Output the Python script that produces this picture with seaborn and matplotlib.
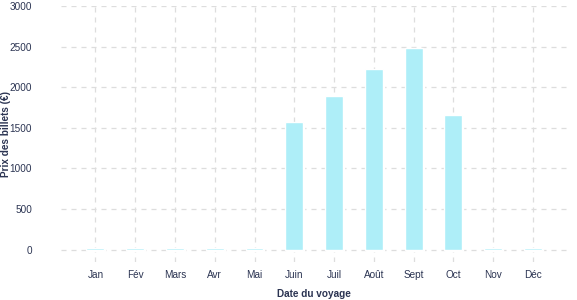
import matplotlib
matplotlib.use("Agg")
import matplotlib.pyplot as plt
import matplotlib.transforms as mtransforms
import seaborn as sns
import pandas as pd

months = ["Jan", "Fév", "Mars", "Avr", "Mai", "Juin", "Juil", "Août", "Sept", "Oct", "Nov", "Déc"]
prices = [20, 20, 20, 20, 20, 1576, 1897, 2229, 2488, 1663, 20, 20]
yticks = [0, 500, 1000, 1500, 2000, 2500, 3000]

df = pd.DataFrame({"mois": months, "prix": prices})

sns.set_theme(style="white")
plt.rcParams["font.family"] = ["Liberation Sans", "DejaVu Sans"]

text_col = "#2b3452"
fig = plt.figure(figsize=(5.77, 3.0), dpi=100)
ax = fig.add_axes([0.106, 0.127, 0.877, 0.853])

# shadow bars
shadow = mtransforms.offset_copy(ax.transData, fig=fig, x=1.0, y=-1.0, units="dots")
ax.bar(range(len(months)), prices, width=0.45, color="#dcdcdc", transform=shadow, zorder=2)

sns.barplot(data=df, x="mois", y="prix", ax=ax, color="#aeeef8", width=0.45,
            saturation=1, zorder=3)

ax.set_xlim(-0.86, 11.86)
ax.set_ylim(-150, 3000)
ax.set_yticks(yticks)
ax.set_yticklabels([str(v) for v in yticks])

ax.grid(True, axis="both", linestyle=(0, (4, 4)), color="#dddddd", linewidth=0.9, zorder=0)
ax.set_axisbelow(True)
for s in ax.spines.values():
    s.set_visible(False)

ax.tick_params(axis="both", length=0, labelsize=7.2, labelcolor=text_col)
ax.tick_params(axis="y", pad=21)
ax.tick_params(axis="x", pad=6)

ax.set_xlabel("Date du voyage", fontsize=7.2, fontweight="bold", color=text_col, labelpad=6)
ax.set_ylabel("Prix des billets (€)", fontsize=7.2, fontweight="bold", color=text_col)
ax.yaxis.set_label_coords(-0.099, 0.5)

fig.savefig("out.png", dpi=100)
